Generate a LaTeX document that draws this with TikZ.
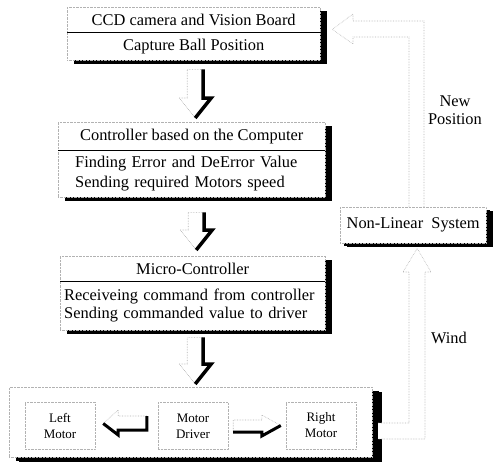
\documentclass[tikz,border=0pt]{standalone}
\usepackage{fontspec}
\setmainfont{Liberation Serif}
\usetikzlibrary{calc, shadows}

% hollow block arrows: faint lit edges, thick shadow edges
\newcommand{\blockdown}[2]{%
  \draw[faintline] let \p1=(#1), \p2=(#2) in
    (\x1-16pt,\y2+20pt) -- (\x1-8pt,\y2+20pt) -- (\x1-8pt,\y1) -- (\x1+8pt,\y1)
    (\x1-16pt,\y2+20pt) -- (\x1,\y2);
  \draw[shadeline] let \p1=(#1), \p2=(#2) in
    (\x1+8pt,\y1) -- (\x1+8pt,\y2+20pt) -- (\x1+16pt,\y2+20pt) -- (\x1,\y2);
}
\newcommand{\blockright}[2]{%
  \draw[faintline] let \p1=(#1), \p2=(#2) in
    (\x1,\y1-6pt) -- (\x1,\y1+6pt) -- (\x2-19pt,\y1+6pt) -- (\x2-19pt,\y1+11pt) -- (\x2,\y2);
  \draw[shadeline, line width=3pt] let \p1=(#1), \p2=(#2) in
    (\x1,\y1-6pt) -- (\x2-19pt,\y1-6pt) -- (\x2-19pt,\y1-10pt) -- (\x2,\y2);
}
\newcommand{\blockleft}[2]{%
  \draw[faintline] let \p1=(#1), \p2=(#2) in
    (\x1,\y1+7pt) -- (\x2+15pt,\y1+7pt) -- (\x2+15pt,\y1+13pt) -- (\x2,\y2);
  \draw[shadeline, line width=3pt] let \p1=(#1), \p2=(#2) in
    (\x1,\y1+7pt) -- (\x1,\y1-7pt) -- (\x2+15pt,\y1-7pt) -- (\x2+15pt,\y1-12pt) -- (\x2,\y2);
}

\begin{document}
\begin{tikzpicture}[x=1pt, y=-1pt,
  faintline/.style={draw=gray!60, densely dotted, line width=0.6pt},
  shadeline/.style={draw=black, line width=3.5pt},
  divider/.style={draw=black, line width=1pt},
  box/.style={rectangle, draw=gray!60, densely dotted, fill=white, anchor=north west,
    inner sep=0pt, font=\fontsize{16.4}{20}\selectfont,
    drop shadow={shadow xshift=7pt, shadow yshift=-4pt, fill=black, opacity=1}},
  motorbox/.style={rectangle, draw=gray!60, densely dotted, minimum width=70pt,
    minimum height=47pt, inner sep=0pt, align=center, font=\fontsize{13}{16}\selectfont},
  label/.style={font=\fontsize{16.4}{18}\selectfont, align=center}]
  \useasboundingbox (0,0) rectangle (493,463);
  % CCD camera box
  \node[box, minimum width=253pt, minimum height=25pt] (cam) at (67,7) {CCD camera and Vision Board};
  \node[box, minimum width=253pt, minimum height=28pt] (cambody) at (67,32) {Capture Ball Position};
  % controller box
  \node[box, minimum width=267pt, minimum height=28pt] (ctrl) at (58,122) {Controller based on the Computer};
  \node[box, minimum height=47pt, inner xsep=17pt, text width=233pt, align=left] (ctrlbody) at (58,150)
    {Finding Error and DeError Value\\Sending required Motors speed};
  % micro-controller box
  \node[box, minimum width=265pt, minimum height=25pt] (mcu) at (60,256) {Micro-Controller};
  \node[box, minimum height=49pt, inner xsep=4pt, text width=257pt, align=left,
    font=\fontsize{16.4}{18}\selectfont] (mcubody) at (60,281)
    {Receiveing command from controller\\Sending commanded value to driver};
  % motor box
  \node[box, minimum width=363pt, minimum height=70pt,
    drop shadow={shadow xshift=10pt, shadow yshift=-5pt, fill=black, opacity=1}] (drv) at (9,387) {};
  \node[motorbox] (lmot) at (60,425.5) {Left\\Motor};
  \node[motorbox] (mdrv) at (193,426) {Motor\\Driver};
  \node[motorbox] (rmot) at (321,425.5) {Right\\Motor};
  % plant box
  \node[box, minimum width=146pt, minimum height=36pt,
    drop shadow={shadow xshift=4pt, shadow yshift=-3pt, fill=black, opacity=1}] (nonlin) at (340,207) {Non-Linear~~System};
  % dividers
  \draw[divider] (cam.south west) -- (cam.south east);
  \draw[divider] (ctrl.south west) -- (ctrl.south east);
  \draw[divider] (mcu.south west) -- (mcu.south east);
  % arrows down the chain
  \coordinate (a1s) at ($(cambody.south)+(1.5,9)$);
  \coordinate (a1e) at ($(ctrl.north)+(0,-4)$);
  \coordinate (a2s) at ($(ctrlbody.south)+(4.5,15)$);
  \coordinate (a2e) at ($(mcu.north)+(0,-6)$);
  \coordinate (a3s) at ($(mcubody.south)+(2.5,7)$);
  \coordinate (a3e) at ($(drv.north)+(0,-3)$);
  \blockdown{a1s}{a1e}
  \blockdown{a2s}{a2e}
  \blockdown{a3s}{a3e}
  % arrows to the motors
  \coordinate (mls) at ($(mdrv.west)+(-11,-3)$);
  \coordinate (mle) at ($(lmot.east)+(8,-2)$);
  \coordinate (mrs) at ($(mdrv.east)+(5,0)$);
  \coordinate (mre) at ($(rmot.west)+(-5,0)$);
  \blockleft{mls}{mle}
  \blockright{mrs}{mre}
  % feedback: motors to plant
  \fill[white] (378,423) rectangle (384,439);
  \draw[faintline] (378,423) -- (409,423) -- (409,272) -- (403,272) -- ($(nonlin.south)+(4,5)$)
    -- (431,272) -- (425,272) -- (425,439) -- (378,439);
  % feedback: plant to camera
  \draw[faintline] (409,207) -- (409,37) -- (353,37) -- (353,44) -- ($(cam.south east)+(12,-3)$)
    -- (353,14) -- (353,21) -- (424,21) -- (424,207);
  % side labels
  \node[label] (newpos) at (455,110) {New\\Position};
  \node[label] (wind) at (449,338) {Wind};
\end{tikzpicture}
\end{document}
